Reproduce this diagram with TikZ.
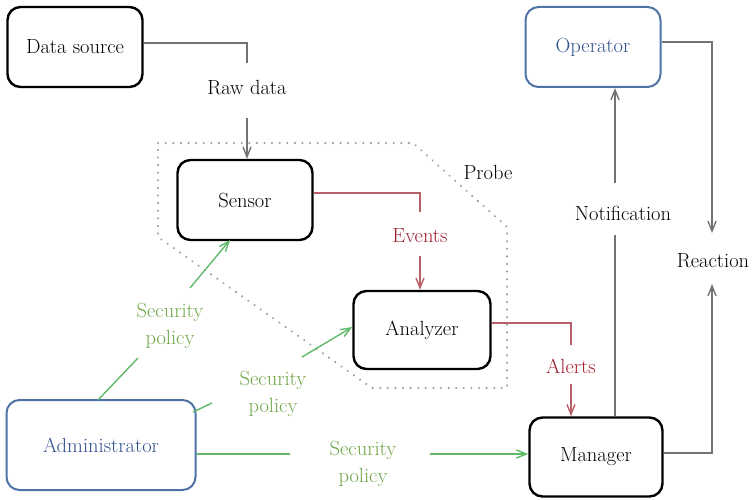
\documentclass[tikz,border=0pt]{standalone}
\usetikzlibrary{arrows.meta}
\definecolor{linegray}{RGB}{115,115,115}
\definecolor{polgreen}{RGB}{95,185,105}
\definecolor{poltext}{RGB}{110,165,70}
\definecolor{evline}{RGB}{185,95,105}
\definecolor{evtext}{RGB}{160,30,45}
\definecolor{actblue}{RGB}{80,115,165}
\definecolor{acttext}{RGB}{50,80,140}
\tikzset{
  base/.style={font=\rmfamily\fontsize{20.5}{27}\selectfont, text=black},
  unit/.style={base, draw=black, line width=2.4pt, rounded corners=13pt, inner sep=0pt},
  actor/.style={unit, draw=actblue, line width=2pt, text=acttext},
  lbl/.style={base, align=center, inner sep=0pt},
  flow/.style={draw=linegray, line width=1.4pt},
  tip/.style={-{Straight Barb[length=10pt,width=8pt,line width=1.4pt]}},
  policy/.style={draw=polgreen, line width=1.4pt},
  ev/.style={draw=evline, line width=1.4pt},
  probe/.style={draw=black!40, line width=2.2pt, dash pattern=on 0.1pt off 7.5pt, line cap=round}
}
\begin{document}
\begin{tikzpicture}[x=1pt, y=-1pt]
\useasboundingbox (0,0) rectangle (752,500);

% probe boundary
\draw[probe] (158,143) -- (413,143) -- (507,227) -- (507,388) -- (372,388) -- (158,237) -- cycle;
\node[lbl] (probe) at (488,172) {Probe};

% components
\node[unit, minimum width=135pt, minimum height=80pt] (ds) at (75,47) {Data source};
\node[unit, minimum width=135pt, minimum height=80pt] (sensor) at (245,200) {Sensor};
\node[unit, minimum width=137pt, minimum height=78pt] (an) at (422,330) {Analyzer};
\node[unit, minimum width=133pt, minimum height=79pt] (mgr) at (596,457) {Manager};
\node[actor, minimum width=135pt, minimum height=80pt] (op) at (593,47) {Operator};
\node[actor, minimum width=189pt, minimum height=90pt] (adm) at (101,445) {Administrator};

% flow labels
\node[lbl] (raw) at (247,88) {Raw data};
\node[lbl, text=evtext] (events) at (420,236) {Events};
\node[lbl, text=evtext] (alerts) at (571,366) {Alerts};
\node[lbl] (notif) at (623,213) {Notification};
\node[lbl] (react) at (713,261) {Reaction};
\node[lbl, text=poltext] (sp1) at (170,326) {Security\\policy};
\node[lbl, text=poltext] (sp2) at (273,394) {Security\\policy};
\node[lbl, text=poltext] (sp3) at (363,464) {Security\\policy};

% raw data
\coordinate (rawtop) at (247,63);
\coordinate (rawbot) at (247,118);
\draw[flow] ([yshift=4pt]ds.east) -| (rawtop);
\draw[flow, tip] (rawbot) -- (sensor.north -| rawbot);

% events
\coordinate (evtop) at (420,212);
\coordinate (evbot) at (420,256);
\draw[ev] ([yshift=7pt]sensor.east) -| (evtop);
\draw[ev, tip] (evbot) -- (an.north -| evbot);

% alerts
\coordinate (altop) at (571,345);
\coordinate (albot) at (571,384);
\draw[ev] ([yshift=7pt]an.east) -| (altop);
\draw[ev, tip] (albot) -- (mgr.north -| albot);

% notification
\coordinate (nflow) at (615,235);
\coordinate (nfup) at (615,183);
\draw[flow] (mgr.north -| nflow) -- (nflow);
\draw[flow, tip] (nfup) -- (op.south -| nfup);

% reaction
\coordinate (rtop) at (712,233);
\coordinate (rbot) at (712,284);
\draw[flow, tip] ([yshift=5pt]op.east) -| (rtop);
\draw[flow, tip] ([yshift=4pt]mgr.east) -| (rbot);

% security policy
\coordinate (a1) at (98,400);
\coordinate (a1m) at (138,358);
\coordinate (s1m) at (190,288);
\coordinate (s1) at (230,240);
\draw[policy] (a1) -- (a1m);
\draw[policy, tip] (s1m) -- (s1);

\coordinate (a2) at (193,412);
\coordinate (a2m) at (212,403);
\coordinate (s2m) at (302,357);
\coordinate (s2) at (an.west |- 0,327);
\draw[policy] (a2) -- (a2m);
\draw[policy, tip] (s2m) -- (s2);

\coordinate (a3m) at (290,454);
\coordinate (s3m) at (430,454);
\draw[policy] (adm.east |- a3m) -- (a3m);
\draw[policy, tip] (s3m) -- (mgr.west |- s3m);
\end{tikzpicture}
\end{document}
